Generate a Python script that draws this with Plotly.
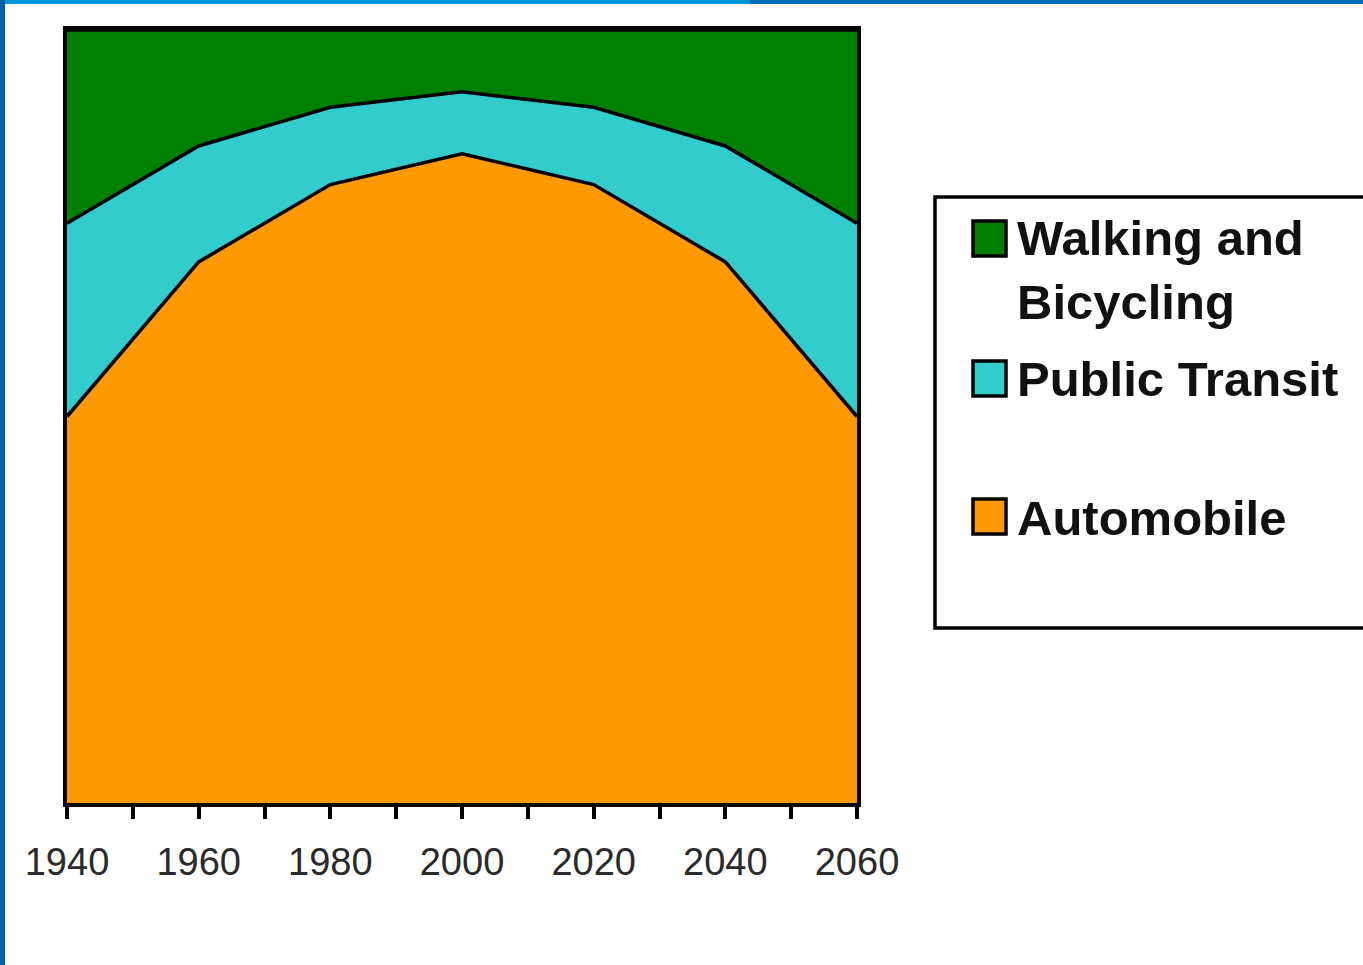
import plotly.graph_objects as go

# ---- data (percent share of trips) ----
years = [1940, 1960, 1980, 2000, 2020, 2040, 2060]
automobile = [50, 70, 80, 84, 80, 70, 50]
public_transit = [25, 15, 10, 8, 10, 15, 25]
walking_bicycling = [25, 15, 10, 8, 10, 15, 25]

tick_years = [1940, 1950, 1960, 1970, 1980, 1990, 2000, 2010, 2020, 2030, 2040, 2050, 2060]
tick_labels = ["1940", "", "1960", "", "1980", "", "2000", "", "2020", "", "2040", "", "2060"]

series = [
    ("Automobile", automobile, "#FF9900"),
    ("Public Transit", public_transit, "#33CCCC"),
    ("Walking and<br>Bicycling", walking_bicycling, "#008000"),
]

W, H = 1363, 965
L, R, T, B = 67, 857, 30, 803  # plot area in pixels


def px(x):
    return (x - L) / (R - L)


def py(y):
    return (B - y) / (B - T)


fig = go.Figure()
for name, vals, color in series:
    fig.add_trace(go.Scatter(
        x=years, y=vals, name=name, mode="lines",
        stackgroup="one", fillcolor=color,
        line=dict(color="black", width=3.5),
        showlegend=False, hoverinfo="x+y+name",
    ))

shapes = []
# page decoration (blue frame bars)
shapes.append(dict(type="rect", xref="paper", yref="paper", x0=px(0), x1=px(750), y0=py(4), y1=py(0),
                   fillcolor="#0096D8", line=dict(width=0), layer="above"))
shapes.append(dict(type="rect", xref="paper", yref="paper", x0=px(750), x1=px(W), y0=py(4), y1=py(0),
                   fillcolor="#006BB6", line=dict(width=0), layer="above"))
shapes.append(dict(type="rect", xref="paper", yref="paper", x0=px(0), x1=px(5), y0=py(H), y1=py(0),
                   fillcolor="#005FA6", line=dict(width=0), layer="above"))

# custom legend box
shapes.append(dict(type="rect", xref="paper", yref="paper", x0=px(935), x1=px(W + 10), y0=py(628), y1=py(197),
                   fillcolor="white", line=dict(color="black", width=3.5)))

legend_rows = [
    (series[2][0], series[2][2], 221, 256, 270),
    (series[1][0], series[1][2], 361, 396, 379),
    (series[0][0], series[0][2], 499, 534, 518),
]
annotations = []
for label, color, top, bot, ymid in legend_rows:
    shapes.append(dict(type="rect", xref="paper", yref="paper", x0=px(973), x1=px(1006), y0=py(bot), y1=py(top),
                       fillcolor=color, line=dict(color="black", width=3.5)))
    annotations.append(dict(xref="paper", yref="paper", x=px(1015), y=py(ymid), xanchor="left", yanchor="middle",
                            text="<b>" + label + "</b>", showarrow=False, align="left",
                            font=dict(family="Liberation Sans, Arial", size=49, color="#111111")))

fig.update_layout(
    width=W, height=H,
    margin=dict(l=L, r=W - R, t=T, b=H - B, pad=0),
    paper_bgcolor="white", plot_bgcolor="white",
    showlegend=False,
    shapes=shapes, annotations=annotations,
    xaxis=dict(range=[1940, 2060], tickvals=tick_years, ticktext=tick_labels,
               ticks="outside", ticklen=12, tickwidth=3.5, tickcolor="black",
               ticklabelstandoff=11,
               showline=True, linecolor="black", linewidth=3.5, mirror=True,
               showgrid=False, zeroline=False,
               tickfont=dict(family="Liberation Sans, Arial", size=38, color="#2a2a2a")),
    yaxis=dict(range=[0, 100], showticklabels=False, ticks="",
               showline=True, linecolor="black", linewidth=3.5, mirror=True,
               showgrid=False, zeroline=False),
)

fig.write_html("out.html", config={"displayModeBar": False},
               post_script="document.body.style.margin='0';document.body.style.overflow='hidden';")
